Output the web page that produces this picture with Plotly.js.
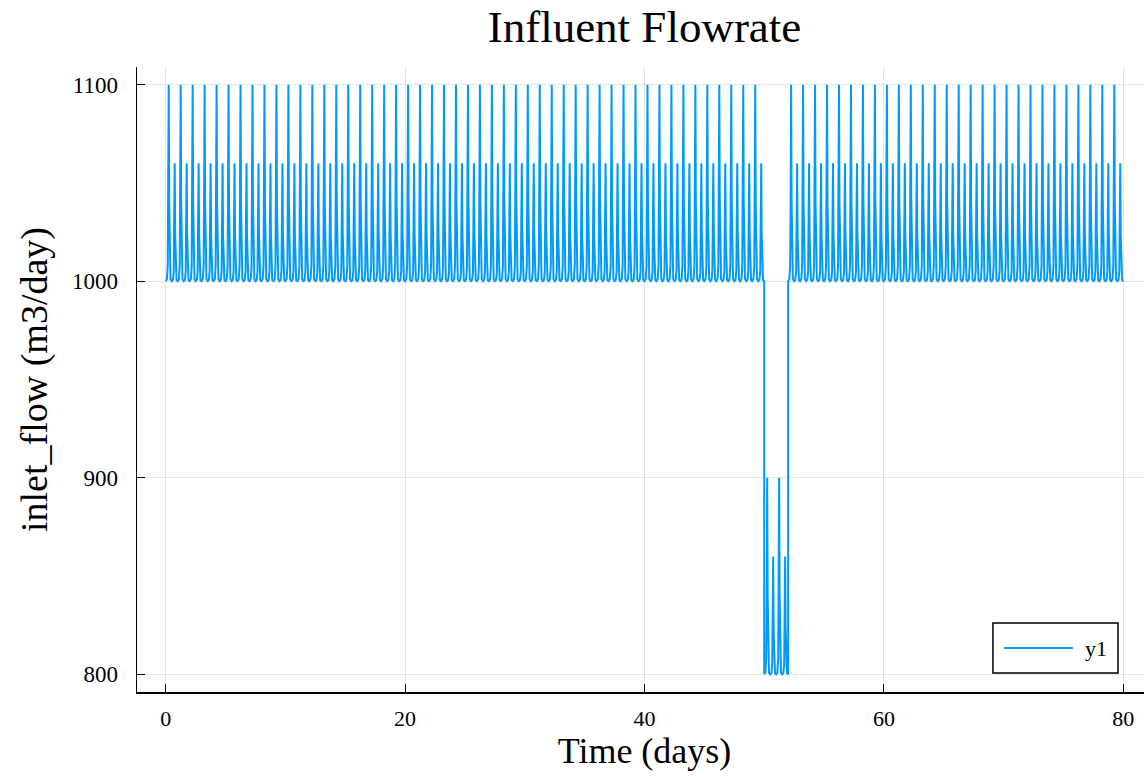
<!DOCTYPE html>
<html>
<head>
<meta charset="utf-8">
<script src="https://cdn.plot.ly/plotly-3.0.1.min.js"></script>
<style>
html, body { margin: 0; padding: 0; overflow: hidden; background: #fff; }
#chart { width: 1152px; height: 776px; }
</style>
</head>
<body>
<div id="chart"></div>
<script>
// Baseline inflow for each day 0..79 (m3/day); dip to 800 on days 50 and 51
const dailyBase = [
  1000,1000,1000,1000,1000,1000,1000,1000,1000,1000,
  1000,1000,1000,1000,1000,1000,1000,1000,1000,1000,
  1000,1000,1000,1000,1000,1000,1000,1000,1000,1000,
  1000,1000,1000,1000,1000,1000,1000,1000,1000,1000,
  1000,1000,1000,1000,1000,1000,1000,1000,1000,1000,
  800,800,1000,1000,1000,1000,1000,1000,1000,1000,
  1000,1000,1000,1000,1000,1000,1000,1000,1000,1000,
  1000,1000,1000,1000,1000,1000,1000,1000,1000,1000
];
// Daily profile: fraction of the day and increment above the baseline
const profileFrac = [0, 0.1, 0.17, 0.21, 0.25, 0.29, 0.33, 0.4, 0.5, 0.6, 0.67, 0.71, 0.75, 0.79, 0.83, 0.9, 1.0];
const profileInc  = [0, 1,   8,    40,   100,  40,   8,    1,   0,   0.6, 5,    24,   60,   24,   5,    0.6, 0];

const xAxisTicks = [0, 20, 40, 60, 80];
const yAxisTicks = [800, 900, 1000, 1100];
const seriesName = 'y1';

const t = [], q = [];
dailyBase.forEach((base, day) => {
  profileFrac.forEach((f, i) => {
    t.push(day + f);
    q.push(base + profileInc[i]);
  });
});

const font = "'Liberation Serif', 'DejaVu Serif', serif";
const lineColor = '#009AFA';

const trace = {
  x: t, y: q, type: 'scatter', mode: 'lines', name: seriesName,
  line: { color: lineColor, width: 2 }
};

const layout = {
  width: 1152, height: 776,
  margin: { l: 137, r: 0, t: 67, b: 84 },
  paper_bgcolor: '#fff', plot_bgcolor: '#fff',
  font: { family: font, color: '#000' },
  title: { text: 'Influent Flowrate', font: { family: font, size: 45, color: '#000' },
           xref: 'paper', x: 0.5, xanchor: 'center', yref: 'container', y: 0.966, yanchor: 'middle' },
  xaxis: {
    range: [-2.4, 82.4], tickvals: xAxisTicks, ticktext: xAxisTicks.map(String),
    showgrid: true, gridcolor: 'rgba(0,0,0,0.1)', gridwidth: 1,
    zeroline: false, showline: true, linecolor: '#000', linewidth: 1.5,
    ticks: 'inside', ticklen: 8, tickwidth: 1, tickcolor: '#000',
    tickfont: { family: font, size: 22, color: '#000' },
    ticklabelstandoff: 6,
    title: { text: 'Time (days)', font: { family: font, size: 36, color: '#000' }, standoff: 5 },
    mirror: false
  },
  yaxis: {
    range: [791, 1109], tickvals: yAxisTicks, ticktext: yAxisTicks.map(String),
    showgrid: true, gridcolor: 'rgba(0,0,0,0.1)', gridwidth: 1,
    zeroline: false, showline: true, linecolor: '#000', linewidth: 1.5,
    ticks: 'inside', ticklen: 8, tickwidth: 1, tickcolor: '#000',
    tickfont: { family: font, size: 23, color: '#000' },
    ticklabelstandoff: 13,
    title: { text: 'inlet_flow (m3/day)', font: { family: font, size: 38, color: '#000' }, standoff: 12 },
    mirror: false
  },
  showlegend: false,
  shapes: [
    { type: 'rect', xref: 'paper', yref: 'paper', x0: 0.8433, x1: 0.9665, y0: 0.0304, y1: 0.1104,
      line: { color: '#000', width: 1.5 }, fillcolor: '#fff', layer: 'above' },
    { type: 'line', xref: 'paper', yref: 'paper', x0: 0.8542, x1: 0.9222, y0: 0.0704, y1: 0.0704,
      line: { color: lineColor, width: 2 }, layer: 'above' }
  ],
  annotations: [
    { xref: 'paper', yref: 'paper', x: 0.932, y: 0.0704, xanchor: 'left', yanchor: 'middle',
      text: seriesName, showarrow: false, font: { family: font, size: 22, color: '#000' } }
  ]
};

Plotly.newPlot('chart', [trace], layout, { displayModeBar: false, staticPlot: true });
</script>
</body>
</html>
